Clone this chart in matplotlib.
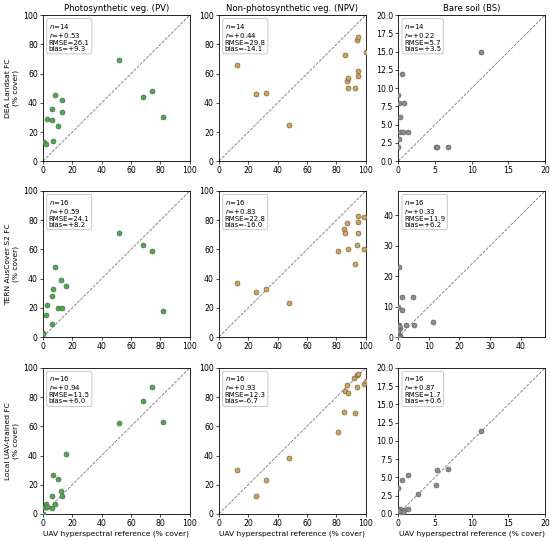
import matplotlib
matplotlib.use("Agg")
import matplotlib.pyplot as plt
from matplotlib.ticker import MultipleLocator, FormatStrFormatter

plt.rcParams["mathtext.fontset"] = "dejavusans"

# ---- data ----
col_titles = ["Photosynthetic veg. (PV)", "Non-photosynthetic veg. (NPV)", "Bare soil (BS)"]
row_labels = ["DEA Landsat FC\n(% cover)", "TERN AusCover S2 FC\n(% cover)", "Local UAV-trained FC\n(% cover)"]
xlabel = "UAV hyperspectral reference (% cover)"

# Row 1: DEA Landsat FC
pv1_x = [0.5, 2, 3, 6, 6, 7, 8, 10, 13, 13, 52, 68, 74, 82]
pv1_y = [13, 12, 29, 36, 28, 14, 45, 24, 42, 34, 69, 44, 48, 30]
npv1_x = [12, 25, 32, 48, 86, 87, 88, 88, 93, 94, 95, 95, 95, 100]
npv1_y = [66, 46, 47, 25, 73, 55, 57, 50, 50, 83, 85, 62, 58, 75]
bs1_x = [11.3, 0.5, 0.0, 0.1, 0.8, 0.3, 0.2, 0.6, 1.3, 0.1, 0.0, 5.1, 5.3, 6.8]
bs1_y = [15, 12, 9, 8, 8, 6, 4, 4, 4, 3, 2, 2, 2, 2]

# Row 2: TERN AusCover S2 FC
pv2_x = [0, 0, 2, 3, 6, 6, 7, 8, 10, 12, 13, 16, 52, 68, 74, 82]
pv2_y = [3, 2, 15, 22, 9, 28, 33, 48, 20, 39, 20, 35, 71, 63, 59, 18]
npv2_x = [12, 25, 32, 48, 81, 85, 86, 87, 88, 93, 94, 95, 95, 95, 99, 99]
npv2_y = [37, 31, 33, 23, 59, 74, 71, 78, 60, 50, 63, 83, 79, 71, 82, 60]
bs2_x = [0.3, 0.0, 1.3, 5.0, 1.2, 11.3, 2.7, 5.3, 0.1, 0.5, 0.2, 0.0, 0.2, 0.5, 0.0, 0.1]
bs2_y = [23, 10, 13, 13, 9, 5, 4, 4, 4, 3, 3.5, 1, 0.5, 0.3, 2, 0]

# Row 3: Local UAV-trained FC
pv3_x = [0, 1, 2, 3, 6, 6, 7, 8, 10, 12, 13, 16, 52, 68, 74, 82]
pv3_y = [0, 5, 7, 5, 4, 12, 27, 7, 24, 16, 12, 41, 62, 77, 87, 63]
npv3_x = [12, 25, 32, 48, 81, 85, 86, 87, 88, 92, 93, 94, 94, 95, 99, 100]
npv3_y = [30, 12, 23, 38, 56, 70, 84, 88, 83, 93, 69, 87, 95, 96, 89, 91]
bs3_x = [0.0, 0.5, 1.4, 5.3, 6.8, 5.1, 2.7, 11.3, 1.3, 0.8, 0.5, 0.2, 0.0, 0.3, 0.6, 0.1]
bs3_y = [3.5, 4.7, 5.3, 6.0, 6.1, 3.9, 2.8, 11.4, 0.7, 0.5, 0.3, 0.7, 0.6, 0.1, 0.2, 0.4]

stats = [
    [("14", "+0.53", "26.1", "+9.3"), ("14", "+0.44", "29.8", "-14.1"), ("14", "+0.22", "5.7", "+3.5")],
    [("16", "+0.59", "24.1", "+8.2"), ("16", "+0.83", "22.8", "-16.0"), ("16", "+0.33", "11.9", "+6.2")],
    [("16", "+0.94", "11.5", "+6.0"), ("16", "+0.93", "12.3", "-6.7"), ("16", "+0.87", "1.7", "+0.6")],
]
limits = [[100, 100, 20], [100, 100, 48], [100, 100, 20]]

data = [
    [(pv1_x, pv1_y), (npv1_x, npv1_y), (bs1_x, bs1_y)],
    [(pv2_x, pv2_y), (npv2_x, npv2_y), (bs2_x, bs2_y)],
    [(pv3_x, pv3_y), (npv3_x, npv3_y), (bs3_x, bs3_y)],
]
colors = ["#44b044", "#dca24a", "#8c8c8c"]

fig = plt.figure(figsize=(5.5, 5.41), dpi=100)
lefts = [0.078, 0.398, 0.724]
bottoms = [0.702, 0.377, 0.050]
w, h = 0.267, 0.270

for i in range(3):
    for j in range(3):
        ax = fig.add_axes([lefts[j], bottoms[i], w, h])
        x, y = data[i][j]
        lim = limits[i][j]
        ax.plot([0, lim], [0, lim], ls="--", color="#777777", lw=0.6, zorder=1)
        ax.scatter(x, y, s=13, c=colors[j], edgecolors="#555555", linewidths=0.4, zorder=3)
        ax.set_xlim(0, lim)
        ax.set_ylim(0, lim)
        if lim == 20:
            ax.xaxis.set_major_locator(MultipleLocator(5))
            ax.yaxis.set_major_locator(MultipleLocator(2.5))
            ax.yaxis.set_major_formatter(FormatStrFormatter("%.1f"))
        elif lim == 48:
            ax.xaxis.set_major_locator(MultipleLocator(10))
            ax.yaxis.set_major_locator(MultipleLocator(10))
        else:
            ax.xaxis.set_major_locator(MultipleLocator(20))
            ax.yaxis.set_major_locator(MultipleLocator(20))
        ax.tick_params(labelsize=5.6, length=2.2, width=0.5, pad=1.5)
        for sp in ax.spines.values():
            sp.set_linewidth(0.6)
        n, r, rmse, bias = stats[i][j]
        txt = f"$n$={n}\n$r$={r}\nRMSE={rmse}\nbias={bias}"
        ax.text(0.04, 0.955, txt, transform=ax.transAxes, va="top", ha="left",
                fontsize=5.0, linespacing=1.0,
                bbox=dict(boxstyle="round,pad=0.3", fc="white", ec="#c0c0c0", lw=0.6))
        if i == 0:
            ax.set_title(col_titles[j], fontsize=6.1, pad=3)
        if j == 0:
            ax.set_ylabel(row_labels[i], fontsize=5.4, labelpad=3)
        if i == 2:
            ax.set_xlabel(xlabel, fontsize=5.4, labelpad=2)

fig.savefig("out.png", dpi=100)
